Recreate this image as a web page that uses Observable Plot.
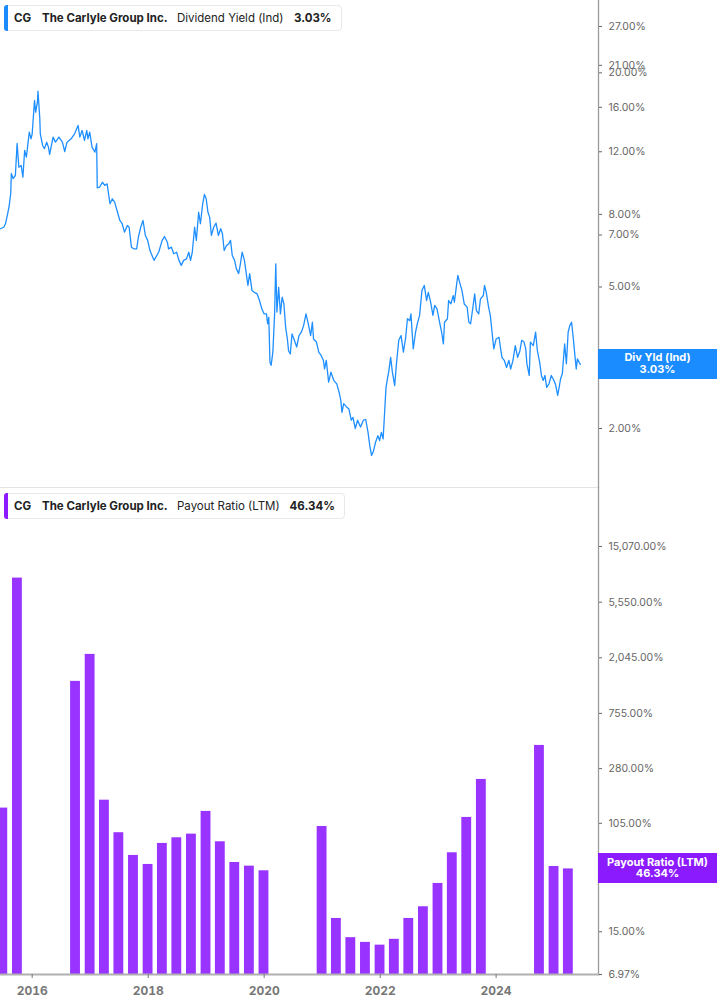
<!DOCTYPE html>
<html><head><meta charset="utf-8">
<script src="https://cdn.jsdelivr.net/npm/d3@7"></script>
<script src="https://cdn.jsdelivr.net/npm/@observablehq/plot@0.6"></script>
<style>
html,body{margin:0;padding:0;background:#fff;}
body{font-family:Inter,"Noto Sans",sans-serif;}
#wrap{position:relative;width:717px;height:1005px;overflow:hidden;background:#fff;}
#wrap svg{position:absolute;left:0;}
.legend{position:absolute;left:4px;height:26px;border:1px solid #e8e8e8;border-radius:4px;background:#fff;box-sizing:border-box;font-size:11.5px;color:#222;white-space:nowrap;}
.legend .acc{position:absolute;left:-1px;top:-1px;bottom:-1px;width:3.5px;border-radius:3px 0 0 3px;}
.legend span{position:absolute;top:5px;line-height:14px;}
.b{font-weight:700;}
.sep{position:absolute;left:0;top:486.5px;width:598px;height:1.5px;background:#e3e3e3;}
.tag{position:absolute;left:598px;width:119px;height:30px;color:#fff;font-weight:700;font-size:11px;line-height:11.5px;text-align:center;box-sizing:border-box;padding-top:3.5px;}
</style>
</head><body>
<div id="wrap"></div>
<script>
// ---------- data ----------
const ydYear = [2015.45,2015.51,2015.54,2015.57,2015.60,2015.63,2015.64,2015.67,2015.71,2015.74,2015.77,2015.81,2015.84,2015.87,2015.90,2015.95,2015.98,2016.00,
2016.04,2016.06,2016.09,2016.10,2016.13,2016.14,2016.18,2016.21,2016.25,2016.28,2016.30,2016.36,2016.40,2016.46,2016.52,2016.56,2016.60,2016.67,2016.73,2016.79,2016.82,2016.86,2016.90,2016.94,2016.96,2016.99,
2017.03,2017.08,2017.11,2017.12,2017.16,2017.21,2017.25,2017.29,2017.34,2017.38,2017.42,2017.47,2017.51,2017.55,2017.59,2017.64,2017.67,2017.71,2017.75,2017.80,2017.83,2017.87,2017.91,2017.95,2017.99,2018.03,
2018.10,2018.13,2018.18,2018.24,2018.28,2018.33,2018.35,2018.40,2018.44,2018.49,2018.53,2018.57,2018.61,2018.66,2018.70,2018.73,2018.76,2018.80,2018.83,2018.87,2018.90,2018.94,2018.97,2019.00,2019.03,2019.06,2019.09,2019.13,2019.17,2019.21,
2019.25,2019.28,2019.31,2019.35,2019.39,2019.42,2019.45,2019.49,2019.52,2019.56,2019.59,2019.62,2019.66,2019.70,2019.72,2019.75,2019.79,2019.83,2019.88,2019.92,2019.96,2020.00,2020.04,2020.06,2020.08,2020.10,2020.12,2020.15,2020.18,2020.20,2020.22,2020.25,2020.28,
2020.31,
2020.34,2020.37,2020.40,2020.42,2020.45,2020.48,2020.52,2020.56,2020.60,2020.64,2020.68,2020.72,2020.76,2020.80,2020.83,2020.85,2020.90,2020.94,2020.98,
2021.02,2021.04,2021.07,2021.11,2021.15,2021.20,2021.25,2021.29,2021.32,2021.34,2021.37,2021.42,2021.46,2021.50,2021.53,2021.57,2021.61,2021.66,2021.71,2021.75,2021.79,2021.82,2021.85,2021.88,2021.92,2021.96,2021.99,
2022.02,2022.05,2022.07,2022.10,2022.12,2022.15,2022.18,2022.21,2022.25,2022.28,2022.32,2022.36,2022.40,2022.44,2022.47,2022.51,2022.53,2022.57,2022.61,2022.64,2022.68,2022.72,2022.76,2022.80,2022.83,2022.87,2022.91,2022.94,2022.98,
2023.03,2023.06,2023.09,2023.11,2023.16,2023.18,2023.22,2023.26,2023.28,2023.32,2023.34,2023.37,2023.41,2023.45,2023.50,2023.53,2023.56,2023.60,2023.63,2023.66,2023.70,2023.73,2023.78,2023.80,2023.83,2023.87,2023.90,2023.93,2023.96,
2024.00,2024.05,2024.07,2024.10,2024.14,2024.18,2024.22,2024.25,2024.29,2024.33,2024.37,2024.41,2024.44,2024.48,2024.51,2024.53,2024.57,2024.59,2024.64,2024.68,2024.71,2024.75,2024.78,2024.81,2024.84,2024.87,2024.91,2024.95,2024.98,
2025.02,2025.06,2025.09,2025.11,2025.14,2025.18,2025.21,2025.24,2025.27,2025.30,2025.33,2025.36,2025.38,2025.40,2025.43,2025.45];
const ydValue = [7.29,7.36,7.54,7.94,8.38,9.16,10.43,10.09,10.29,12.66,10.86,10.98,10.18,12.10,11.59,13.62,13.05,13.48,
16.73,15.51,16.54,17.76,15.01,13.48,12.50,12.24,12.77,12.36,11.79,13.19,12.77,13.19,12.77,12.02,12.77,13.05,13.48,14.23,13.19,13.77,12.91,13.77,13.05,13.62,
12.36,11.97,12.64,9.50,9.54,9.85,9.65,9.75,8.57,8.85,8.66,8.11,7.69,7.53,7.13,7.45,7.36,6.47,6.40,6.40,6.90,7.36,7.69,6.98,6.76,6.33,
5.94,6.06,6.26,6.76,6.93,6.68,6.40,6.47,6.20,6.26,5.94,5.75,5.94,6.00,6.26,5.94,6.26,7.36,6.76,8.11,7.53,8.57,9.10,8.85,8.11,7.86,6.98,7.36,7.56,6.98,
7.29,7.06,6.33,6.54,6.61,6.76,6.13,5.94,5.63,5.45,5.81,6.26,5.94,5.33,5.05,5.45,4.89,4.83,4.78,4.58,4.34,4.20,4.20,3.94,4.11,3.07,3.01,3.28,4.20,5.81,4.25,4.99,4.20,
4.68,
4.48,3.85,3.57,3.31,3.24,3.69,3.54,3.39,3.65,3.73,3.90,4.20,3.94,3.65,3.98,3.57,3.50,3.28,3.21,
3.11,2.94,3.11,2.70,2.88,2.73,2.67,2.53,2.40,2.22,2.35,2.30,2.27,2.11,2.15,2.00,2.11,2.02,2.11,2.12,1.95,1.79,1.68,1.72,1.83,1.91,1.85,
1.95,1.87,2.13,2.61,2.73,2.91,3.17,2.88,2.64,3.04,3.54,3.65,3.28,3.61,4.07,4.02,4.20,3.35,3.73,3.94,4.16,4.89,5.05,4.58,4.83,4.53,4.16,4.44,4.34,
3.94,3.73,3.46,3.98,4.07,4.58,4.48,4.73,4.53,5.10,5.39,5.16,4.89,4.48,4.39,3.98,3.94,4.39,4.78,4.29,4.20,4.63,4.73,5.05,4.83,4.39,4.16,3.73,3.35,
3.57,3.61,3.42,3.17,3.11,2.97,3.11,2.94,3.11,3.42,3.17,3.31,3.54,3.50,3.35,3.04,2.82,3.50,3.42,3.73,3.31,3.07,2.82,2.73,2.82,2.61,2.67,2.82,2.76,
2.67,2.48,2.64,2.76,2.85,3.46,3.04,3.73,3.90,3.98,3.57,3.17,2.94,3.14,3.07,3.03];

const payDate = ["2015-06-30","2015-09-30","2016-09-30","2016-12-31","2017-03-31","2017-06-30","2017-09-30","2017-12-31",
"2018-03-31","2018-06-30","2018-09-30","2018-12-31","2019-03-31","2019-06-30","2019-09-30","2019-12-31",
"2020-12-31","2021-03-31","2021-06-30","2021-09-30","2021-12-31","2022-03-31","2022-06-30","2022-09-30","2022-12-31",
"2023-03-31","2023-06-30","2023-09-30","2024-09-30","2024-12-31","2025-03-31"];
const payValue = [138,8550,1340,2175,159,88.7,59,50.2,73.2,81,86.5,130,75.4,52,48.7,44.8,
99.2,19.05,13.5,12.4,11.8,13.1,19.05,23.5,35.7,61.9,116.7,230.7,424.8,48.4,46.34];

const yldTicks = [2,3,5,7,8,12,16,20,21,27];
const payTicks = [6.97,15,45,105,280,755,2045,5550,15070];
const yearTicks = [2016,2018,2020,2022,2024];
const lastYield = 3.03, lastPayout = 46.34;

// ---------- helpers ----------
function yearToDate(t){const y=Math.floor(t);const a=Date.UTC(y,0,1),b=Date.UTC(y+1,0,1);return new Date(a+(t-y)*(b-a));}
const yd = ydYear.slice(0, Math.min(ydYear.length, ydValue.length)).map((t,i)=>({date:yearToDate(t), value:ydValue[i]}));
const DAY = 864e5;
const pay = payDate.map((d,i)=>{const t=new Date(d+"T00:00:00Z");return {x1:new Date(+t-31*DAY), x2:new Date(+t+31*DAY), value:payValue[i]};});
const xDomain = [yearToDate(2015.4534), yearToDate(2025.764)];
const pct2 = d=>d.toFixed(2)+"%";
const pctC = d=>d3.format(",.2f")(d)+"%";
const axisColor = "#9a9a9a";
const FONT = "Inter, 'Noto Sans', sans-serif";
const style = {fontFamily:FONT, fontSize:"10.5px", color:"#666", background:"transparent", overflow:"visible"};

function rightAxis(ticks, fmt){
  return [
    Plot.tickY(ticks, {y:d=>d, frameAnchor:"right", stroke:"#666", strokeWidth:1, dx:0}),
    Plot.text(ticks, {y:d=>d, frameAnchor:"right", dx:10, textAnchor:"start", text:fmt, fill:"#666", fontSize:10.5})
  ];
}

// ---------- top panel ----------
const topPlot = Plot.plot({
  width:717, height:487, marginLeft:0, marginRight:119, marginTop:0, marginBottom:0,
  style,
  x:{type:"utc", domain:xDomain, range:[0,598], axis:null},
  y:{type:"log", domain:[2,27], range:[428,26], axis:null},
  marks:[
    Plot.line(yd, {x:"date", y:"value", stroke:"#1f8fff", strokeWidth:1.3}),
    Plot.frame({anchor:"right", stroke:axisColor, strokeWidth:1.3}),
    Plot.axisY({anchor:"right", ticks:yldTicks, tickFormat:()=>"", tickSize:3, label:null, color:"#666"}),
    Plot.text(yldTicks, {y:d=>d, frameAnchor:"right", dx:10, textAnchor:"start", text:pct2, fill:"#666"})
  ]
});
topPlot.style.top = "0px";

// ---------- bottom panel ----------
const botPlot = Plot.plot({
  width:717, height:518, marginLeft:0, marginRight:119, marginTop:0, marginBottom:31,
  style,
  x:{type:"utc", domain:xDomain, range:[0,598]},
  y:{type:"log", domain:[6.97,15070], range:[487,59], axis:null},
  marks:[
    Plot.rectY(pay, {x1:"x1", x2:"x2", y1:6.97, y2:"value", fill:"#9933ff", clip:true}),
    Plot.frame({anchor:"right", stroke:axisColor, strokeWidth:1.3}),
    Plot.frame({anchor:"bottom", stroke:"#b0b0b0", strokeWidth:2}),
    Plot.axisY({anchor:"right", ticks:payTicks, tickFormat:()=>"", tickSize:3, label:null, color:"#666"}),
    Plot.text(payTicks, {y:d=>d, frameAnchor:"right", dx:10, textAnchor:"start", text:pctC, fill:"#666"}),
    Plot.axisX({ticks:yearTicks.map(y=>new Date(Date.UTC(y,0,1))), tickFormat:d3.utcFormat("%Y"), tickSize:4, tickPadding:8, fontSize:12, fontWeight:"bold", color:"#777", label:null})
  ]
});
botPlot.style.top = "487px";

const wrap = document.getElementById("wrap");
wrap.appendChild(topPlot);
wrap.appendChild(botPlot);

const sep = document.createElement("div"); sep.className="sep"; wrap.appendChild(sep);

function legend(top, color, metric, value, valueLeft, width){
  const el = document.createElement("div");
  el.className = "legend"; el.style.top = top+"px"; el.style.width = width+"px";
  el.innerHTML = `<div class="acc" style="background:${color}"></div>
  <span class="b" style="left:9px">CG</span>
  <span class="b" style="left:37px">The Carlyle Group Inc.</span>
  <span style="left:172px">${metric}</span>
  <span class="b" style="left:${valueLeft}px">${value}</span>`;
  wrap.appendChild(el);
}
legend(4.5, "#1a8cff", "Dividend Yield (Ind)", pct2(lastYield), 289, 338);
legend(492.5, "#8c1aff", "Payout Ratio (LTM)", pct2(lastPayout), 284.5, 341);

function tag(yPix, color, l1, l2){
  const el = document.createElement("div");
  el.className="tag"; el.style.top=(yPix-15)+"px"; el.style.background=color;
  el.innerHTML = l1+"<br>"+l2;
  wrap.appendChild(el);
}
tag(topPlot.scale("y").apply(lastYield), "#1a8cff", "Div Yld (Ind)", pct2(lastYield));
tag(487 + botPlot.scale("y").apply(lastPayout), "#8c1aff", "Payout Ratio (LTM)", pct2(lastPayout));
</script>
</body></html>
